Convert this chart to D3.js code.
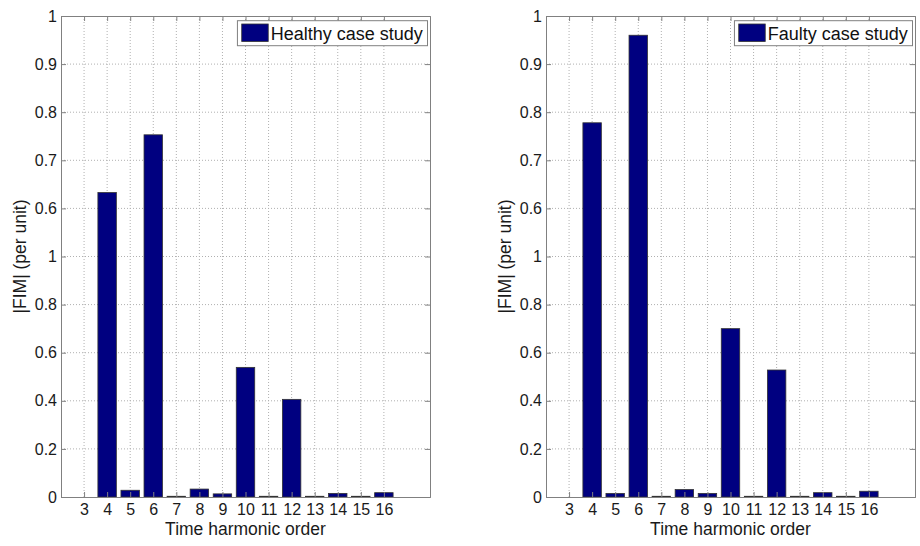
<!DOCTYPE html>
<html>
<head>
<meta charset="utf-8">
<script src="https://cdn.jsdelivr.net/npm/d3@7"></script>
<style>
  body { margin: 0; background: #fff; }
  svg { display: block; font-family: "Liberation Sans", Arial, sans-serif; }
</style>
</head>
<body>
<svg id="chart" width="920" height="546"></svg>
<script>
// harmonic orders on the x axis
var harmonics = [3, 4, 5, 6, 7, 8, 9, 10, 11, 12, 13, 14, 15, 16];

// |FIM| values (per unit)
var healthy = [0, 0.633, 0.028, 0.753, 0.003, 0.033, 0.013, 0.539, 0.003, 0.406, 0.003, 0.015, 0.003, 0.018];
var faulty  = [0, 0.778, 0.015, 0.960, 0.003, 0.031, 0.015, 0.700, 0.003, 0.528, 0.003, 0.018, 0.003, 0.024];

// broken y axis: these bars are drawn against the upper (0.6 - 1) part
var upperHealthy = [4, 6];
var upperFaulty  = [4, 6];

// y tick labels as printed, bottom to top
var yTickLabels = ["0", "0.2", "0.4", "0.6", "0.8", "1", "0.6", "0.7", "0.8", "0.9", "1"];
var lowerDomain = [0, 1];
var upperDomain = [0.6, 1];

var legendNames = ["Healthy case study", "Faulty case study"];

var svg = d3.select("#chart");
var height = 481;   // plot height, top at y=16
var width = 369;

function drawPanel(left, values, upper, legendText) {
  var g = svg.append("g").attr("transform", "translate(" + left + ",16)");

  var x = d3.scaleLinear().domain([2, 18]).range([0, width]);
  var step = x(3) - x(2);
  var nTicks = yTickLabels.length - 1;
  var yIdx = d3.scaleLinear().domain([0, nTicks]).range([height, 0]);
  // lower part: 0..1 over ticks 0..5, upper part: 0.6..1 over ticks 6..10
  var yLow = d3.scaleLinear().domain(lowerDomain).range([yIdx(0), yIdx(5)]);
  var yHigh = d3.scaleLinear().domain(upperDomain).range([yIdx(6), yIdx(10)]);

  // dotted grid
  g.append("g").selectAll("line.gx")
    .data(harmonics)
    .enter().append("line")
    .attr("x1", function(d) { return x(d); })
    .attr("x2", function(d) { return x(d); })
    .attr("y1", 0).attr("y2", height)
    .attr("stroke", "#b0b0b0").attr("stroke-width", 1)
    .attr("stroke-dasharray", "1,2");
  g.append("g").selectAll("line.gy")
    .data(d3.range(1, nTicks))
    .enter().append("line")
    .attr("x1", 0).attr("x2", width)
    .attr("y1", function(d) { return yIdx(d); })
    .attr("y2", function(d) { return yIdx(d); })
    .attr("stroke", "#b0b0b0").attr("stroke-width", 1)
    .attr("stroke-dasharray", "1,2");

  // bars
  var data = harmonics.map(function(h, i) {
    return {h: h, v: values[i], up: upper.indexOf(h) >= 0};
  });
  g.append("g").selectAll("rect")
    .data(data.filter(function(d) { return d.v > 0; }))
    .enter().append("rect")
    .attr("x", function(d) { return x(d.h) - step * 0.4; })
    .attr("width", step * 0.8)
    .attr("y", function(d) { return d.up ? yHigh(d.v) : yLow(d.v); })
    .attr("height", function(d) { return height - (d.up ? yHigh(d.v) : yLow(d.v)); })
    .attr("fill", "#000080")
    .attr("stroke", "#333")
    .attr("stroke-width", 0.8);

  // axes
  var axisColor = "#808080";
  var xb = g.append("g").attr("transform", "translate(0," + height + ")")
    .call(d3.axisBottom(x).tickValues(harmonics).tickSize(-5).tickPadding(6.5).tickFormat(d3.format("d")));
  var xt = g.append("g")
    .call(d3.axisTop(x).tickValues(harmonics).tickSize(-5).tickFormat(""));
  var yl = g.append("g")
    .call(d3.axisLeft(yIdx).tickValues(d3.range(0, nTicks + 1)).tickSize(-5).tickPadding(4)
      .tickFormat(function(d) { return yTickLabels[d]; }));
  var yr = g.append("g").attr("transform", "translate(" + width + ",0)")
    .call(d3.axisRight(yIdx).tickValues(d3.range(0, nTicks + 1)).tickSize(-5).tickFormat(""));

  [xb, xt, yl, yr].forEach(function(a) {
    a.select(".domain").attr("stroke", axisColor);
    a.selectAll(".tick line").attr("stroke", axisColor);
    a.selectAll(".tick text").attr("fill", "#1a1a1a").style("font-size", "16px")
      .style("font-family", "'Liberation Sans', Arial, sans-serif");
  });

  // axis titles
  g.append("text")
    .attr("x", width / 2).attr("y", height + 38)
    .attr("text-anchor", "middle")
    .style("font-size", "17.5px").attr("fill", "#1a1a1a")
    .text("Time harmonic order");
  g.append("text")
    .attr("transform", "translate(-35," + (height / 2) + ") rotate(-90)")
    .attr("text-anchor", "middle")
    .style("font-size", "17.5px").attr("fill", "#1a1a1a")
    .text("|FIM| (per unit)");

  // legend
  var lg = g.append("g");
  var lt = lg.append("text")
    .attr("x", 0).attr("y", 0)
    .style("font-size", "18px").attr("fill", "#111")
    .text(legendText);
  var tw = lt.node().getComputedTextLength();
  var boxW = tw + 38, boxH = 25;
  var bx = width - 2.5 - boxW, by = 4.7;
  lg.insert("rect", "text")
    .attr("x", bx).attr("y", by).attr("width", boxW).attr("height", boxH)
    .attr("fill", "#fff").attr("stroke", "#808080");
  lg.append("rect")
    .attr("x", bx + 4.3).attr("y", by + 3.3).attr("width", 26.5).attr("height", 17.5)
    .attr("fill", "#000080").attr("stroke", "#333").attr("stroke-width", 0.8);
  lt.attr("x", bx + 33.3).attr("y", by + 19.3);
}

drawPanel(61, healthy, upperHealthy, legendNames[0]);
drawPanel(546, faulty, upperFaulty, legendNames[1]);
</script>
</body>
</html>
